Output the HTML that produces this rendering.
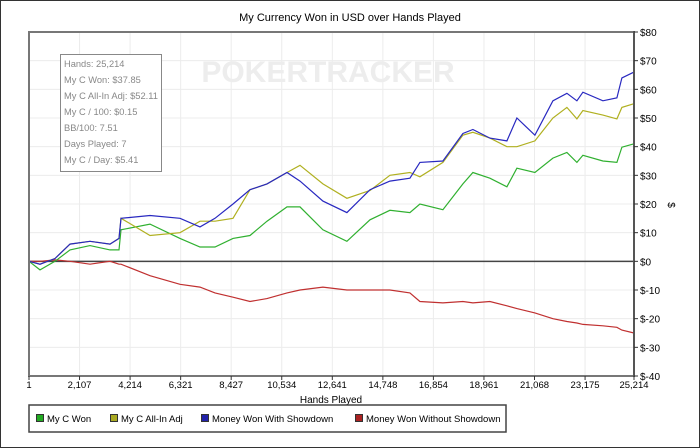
<!DOCTYPE html>
<html><head><meta charset="utf-8"><style>
body{margin:0;background:#fff;}
svg{display:block;font-family:"Liberation Sans",Arial,sans-serif;}
</style></head><body>
<svg id="chart" width="700" height="448" viewBox="0 0 700 448">
<rect x="0.5" y="0.5" width="699" height="447" fill="#fff" stroke="#333"/>
<text x="350" y="21" font-size="11" text-anchor="middle" fill="#000">My Currency Won in USD over Hands Played</text>
<g id="grid"></g>
<text x="328" y="82" font-size="30" font-weight="bold" fill="#ededed" text-anchor="middle">POKERTRACKER</text>
<g id="series"></g>
<rect x="29" y="32" width="605" height="344" fill="none" stroke="#777" stroke-width="2"/>
<line x1="634" y1="31" x2="634" y2="377" stroke="#555" stroke-width="2"/>
<g id="axes"></g>
<g>
<rect x="60.5" y="54.5" width="101" height="117" fill="#fff" stroke="#888"/>
<g font-size="9.3" fill="#888">
<text x="64" y="67">Hands: 25,214</text>
<text x="64" y="83">My C Won: $37.85</text>
<text x="64" y="99" textLength="94" lengthAdjust="spacingAndGlyphs">My C All-In Adj: $52.11</text>
<text x="64" y="115">My C / 100: $0.15</text>
<text x="64" y="131">BB/100: 7.51</text>
<text x="64" y="147">Days Played: 7</text>
<text x="64" y="163">My C / Day: $5.41</text>
</g></g>
<text x="331" y="403" font-size="10" text-anchor="middle">Hands Played</text>
<text transform="translate(668,205) rotate(90)" font-size="10" text-anchor="middle">$</text>
<g>
<rect x="29" y="405" width="477" height="27" fill="#fff" stroke="#444" stroke-width="1.5"/>
<g font-size="9.5">
<g><rect x="36.5" y="414.5" width="7" height="7" fill="#22aa22" stroke="#333"/><text x="47" y="422">My C Won</text></g>
<g><rect x="110.5" y="414.5" width="7" height="7" fill="#aaaa22" stroke="#333"/><text x="121" y="422">My C All-In Adj</text></g>
<g><rect x="201.5" y="414.5" width="7" height="7" fill="#2222aa" stroke="#333"/><text x="212" y="422">Money Won With Showdown</text></g>
<g><rect x="355.5" y="414.5" width="7" height="7" fill="#aa2222" stroke="#333"/><text x="366" y="422">Money Won Without Showdown</text></g>
</g></g>
</svg>
<script>
const xTicks = [1,2107,4214,6321,8427,10534,12641,14748,16854,18961,21068,23175,25214];
const yTicks = [-40,-30,-20,-10,0,10,20,30,40,50,60,70,80];
const hands = [1,458,1083,1708,2542,3375,3750,3834,5042,6292,7126,7751,8501,9209,9918,10751,11293,12251,13251,14210,15043,15876,16293,17251,18085,18501,19210,19918,20335,21085,21835,22418,22835,23085,23918,24502,24710,25214];
const wonWithShowdown = [0,-1,1,6,7,6,8,15,16,15,12,15,20,25,27,31,28,21,17,25,28,29,34.5,35,44.6,46,43,42,50,44,56,58.6,56,59,56,57,64,66];
const allInAdj = [0,-1,1,6,7,6,8,15,9,10,14,14,15,25,27,31,33.5,27,22,24.7,30,31,29.5,34.5,44,45,43,40,40,42,50,53.7,49.7,52.6,51,49.7,53.7,55];
const myCWon = [0,-3,0,4,5.5,4,4,11,13,8,5,5,8,9,14,19,19,11,7,14.5,17.8,17,20,18,27,31,29,26,32.5,31,36,38,34.5,37,35,34.5,39.8,41];
const wonWithoutShowdown = [0,0,0.5,0,-1,0,-1,-1,-5,-8,-9,-11,-12.5,-14,-13,-11,-10,-9,-10,-10,-10,-11,-14,-14.5,-14,-14.5,-14,-15.5,-16.5,-18,-20,-21,-21.5,-22,-22.5,-23,-24,-25];

const X0=29,X1=634,Y0=32,Y1=376,XMIN=1,XMAX=25214,YMIN=-40,YMAX=80;
function xs(v){return X0+(v-XMIN)/(XMAX-XMIN)*(X1-X0);}
function ys(v){return Y1-(v-YMIN)/(YMAX-YMIN)*(Y1-Y0);}
const NS='http://www.w3.org/2000/svg';
function mk(tag,attrs,parent){const e=document.createElementNS(NS,tag);for(const k in attrs)e.setAttribute(k,attrs[k]);parent.appendChild(e);return e;}
const grid=document.getElementById('grid'),axes=document.getElementById('axes'),ser=document.getElementById('series');
xTicks.forEach(t=>{
  const gl=mk('line',{x1:xs(t),x2:xs(t),y1:Y0,y2:Y1,stroke:'#ececec'},grid);
  
  
  const tk=mk('line',{x1:xs(t),x2:xs(t),y1:Y1,y2:Y1+4,stroke:'#333'},axes);
  
  
  const lb=mk('text',{x:xs(t),y:Y1+12,'font-size':9.5,'text-anchor':'middle'},axes);
  lb.textContent=t.toLocaleString('en-US');
  
  
});
yTicks.forEach(t=>{
  const gl=mk('line',{x1:X0,x2:X1,y1:ys(t),y2:ys(t),stroke:'#ececec'},grid);
  
  
  const tk=mk('line',{x1:X1,x2:X1+4,y1:ys(t),y2:ys(t),stroke:'#333'},axes);
  
  
  const lb=mk('text',{x:X1+6,y:ys(t)+4,'font-size':10},axes);
  lb.textContent=(t<0?'$-'+(-t):'$'+t);
  
  
});
const zl=mk('line',{x1:X0,x2:X1,y1:ys(0),y2:ys(0),stroke:'#444','stroke-width':1.5},grid);


function line(vals,color,name){
  const d=vals.map((v,i)=>(i?'L':'M')+xs(hands[i]).toFixed(1)+','+ys(v).toFixed(1)).join(' ');
  const p=mk('path',{d:d,fill:'none',stroke:color,'stroke-width':1.2},ser);
  
  
}
line(wonWithoutShowdown,'#c03030','series-without-showdown');
line(myCWon,'#30b030','series-my-c-won');
line(allInAdj,'#b0b020','series-all-in-adj');
line(wonWithShowdown,'#2828c0','series-with-showdown');
</script>
</body></html>
